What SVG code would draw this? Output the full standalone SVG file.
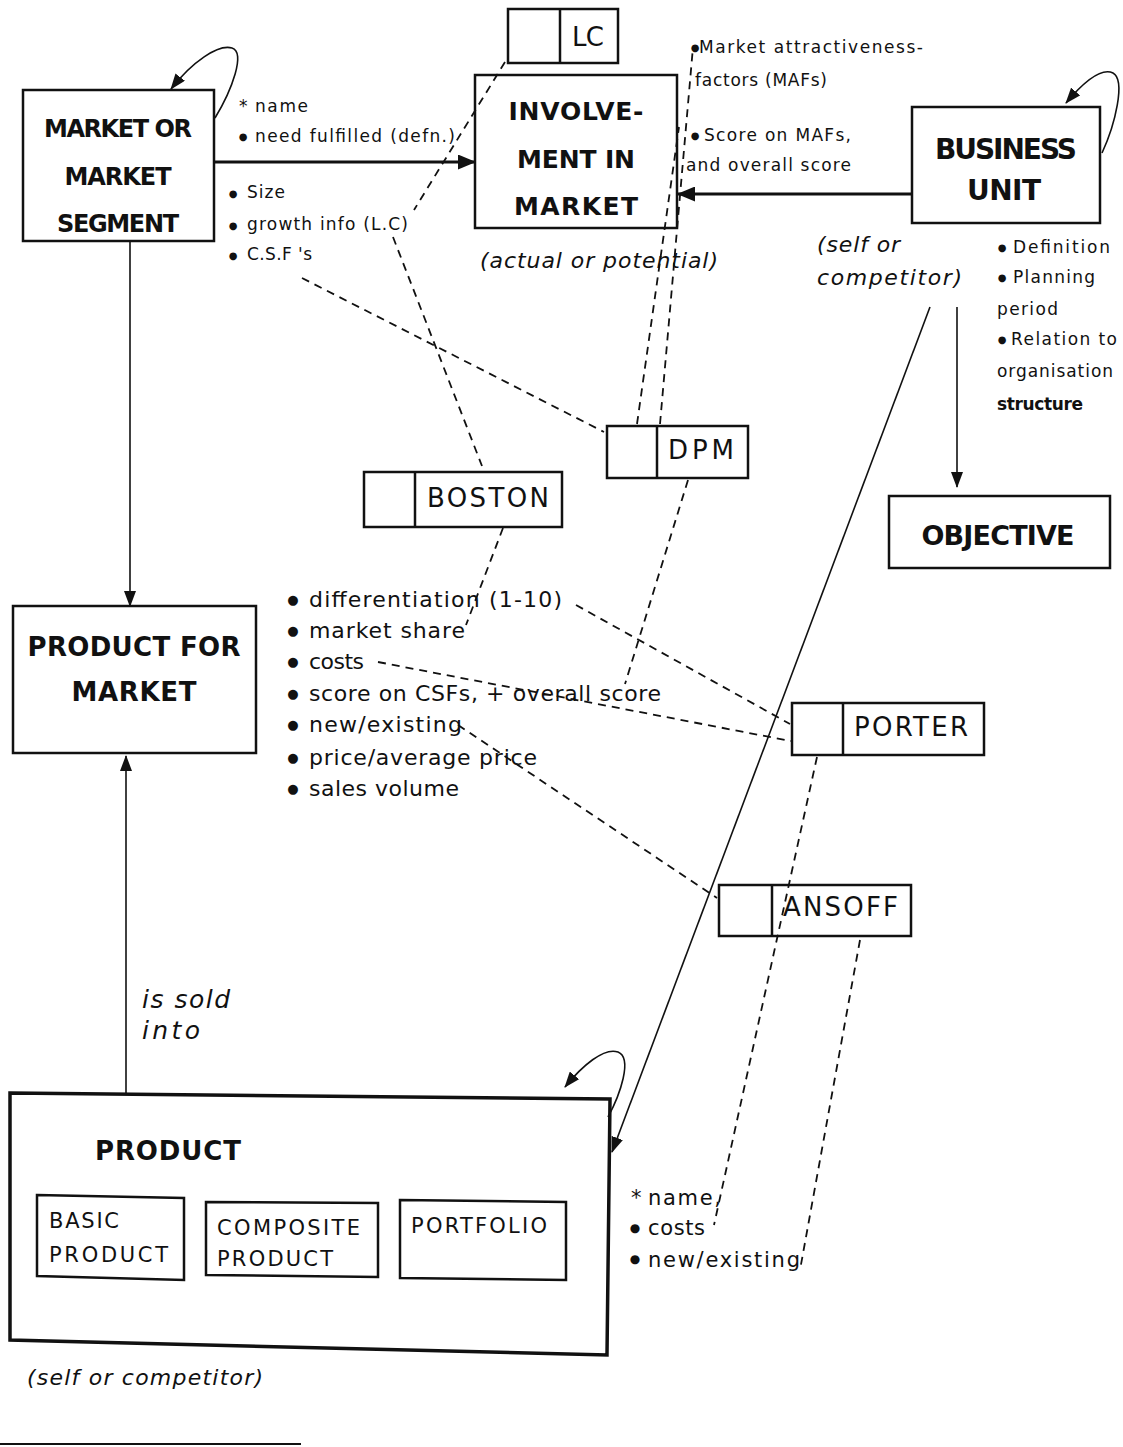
<svg xmlns="http://www.w3.org/2000/svg" width="1123" height="1447" viewBox="0 0 1123 1447">
<style>
text { font-family: "DejaVu Sans", "Liberation Sans", sans-serif; fill: #111; }
.box { fill: none; stroke: #111; stroke-width: 2.5; }
.pbox { fill: none; stroke: #111; stroke-width: 3.5; }
.big { font-weight: bold; font-size: 24px; text-anchor: middle; }
.lbl { font-size: 26px; }
.sm { font-size: 17px; }
.md { font-size: 21px; }
.lst { font-size: 22px; }
.it { font-style: italic; font-size: 22px; }
.bul { font-size: 10px; text-anchor: middle; }
.bulL { font-size: 13px; text-anchor: middle; }
.solid { fill: none; stroke: #111; stroke-width: 1.6; }
.thick { fill: none; stroke: #111; stroke-width: 3.2; }
.dash { fill: none; stroke: #111; stroke-width: 1.8; stroke-dasharray: 8 6; }
</style>
<defs>
<marker id="ah" viewBox="0 0 16 12" refX="15" refY="6" markerWidth="16" markerHeight="12" markerUnits="userSpaceOnUse" orient="auto"><path d="M0,0 L16,6 L0,12 z" fill="#111"/></marker>
<marker id="ahB" viewBox="0 0 18 15" refX="17" refY="7.5" markerWidth="18" markerHeight="15" markerUnits="userSpaceOnUse" orient="auto"><path d="M0,0 L18,7.5 L0,15 z" fill="#111"/></marker>
</defs>
<rect width="1123" height="1447" fill="#fff"/>

<g id="market">
<rect class="box" x="23" y="90" width="191" height="151"/>
<text class="big" x="118" y="137" textLength="148">MARKET OR</text>
<text class="big" x="118" y="185" textLength="107">MARKET</text>
<text class="big" x="118" y="232" textLength="122">SEGMENT</text>
<text class="sm" x="239" y="112">*</text>
<text class="sm" x="255" y="112" textLength="53">name</text>
<text class="bul" x="243" y="140">●</text>
<text class="sm" x="255" y="142" textLength="200">need fulfilled (defn.)</text>
<text class="bul" x="233" y="197">●</text>
<text class="sm" x="247" y="198" textLength="38">Size</text>
<text class="bul" x="233" y="229">●</text>
<text class="sm" x="247" y="230" textLength="161">growth info (L.C)</text>
<text class="bul" x="233" y="259">●</text>
<text class="sm" x="247" y="260" textLength="65">C.S.F 's</text>
</g>

<g id="lc">
<rect class="box" x="508" y="9" width="110" height="54"/>
<line class="box" x1="560" y1="9" x2="560" y2="63"/>
<text class="lbl" x="572" y="46" textLength="32">LC</text>
</g>

<g id="involvement">
<rect class="box" x="475" y="75" width="202" height="153"/>
<text class="big" x="576" y="120" textLength="135" style="font-size:25px">INVOLVE-</text>
<text class="big" x="576" y="168" textLength="118" style="font-size:25px">MENT IN</text>
<text class="big" x="576" y="215" textLength="124" style="font-size:25px">MARKET</text>
<text class="it" x="480" y="268" textLength="238">(actual or potential)</text>
<text class="bul" x="695" y="51">●</text>
<text class="sm" x="699" y="53" textLength="224">Market attractiveness-</text>
<text class="sm" x="695" y="86" textLength="132">factors (MAFs)</text>
<text class="bul" x="695" y="139">●</text>
<text class="sm" x="704" y="141" textLength="147">Score on MAFs,</text>
<text class="sm" x="686" y="171" textLength="165">and overall score</text>
</g>

<g id="business">
<rect class="box" x="912" y="107" width="188" height="116"/>
<text class="big" x="1006" y="159" textLength="142" style="font-size:28px">BUSINESS</text>
<text class="big" x="1004" y="200" textLength="74" style="font-size:28px">UNIT</text>
<text class="it" x="817" y="252" textLength="83">(self or</text>
<text class="it" x="817" y="285" textLength="145">competitor)</text>
<text class="bul" x="1002" y="251">●</text>
<text class="sm" x="1013" y="253" textLength="97">Definition</text>
<text class="bul" x="1002" y="281">●</text>
<text class="sm" x="1013" y="283" textLength="82">Planning</text>
<text class="sm" x="997" y="315" textLength="61">period</text>
<text class="bul" x="1002" y="343">●</text>
<text class="sm" x="1011" y="345" textLength="106">Relation to</text>
<text class="sm" x="997" y="377" textLength="116">organisation</text>
<text class="sm" x="997" y="410" textLength="86" font-weight="bold">structure</text>
</g>

<g id="objective">
<rect class="box" x="889" y="496" width="221" height="72"/>
<text class="big" x="998" y="545" textLength="153" style="font-size:27px">OBJECTIVE</text>
</g>

<g id="dpm">
<rect class="box" x="607" y="426" width="141" height="52"/>
<line class="box" x1="657" y1="426" x2="657" y2="478"/>
<text class="lbl" x="668" y="459" textLength="66">DPM</text>
</g>

<g id="boston">
<rect class="box" x="364" y="472" width="198" height="55"/>
<line class="box" x1="415" y1="472" x2="415" y2="527"/>
<text class="lbl" x="427" y="507" textLength="122">BOSTON</text>
</g>

<g id="porter">
<rect class="box" x="792" y="703" width="192" height="52"/>
<line class="box" x1="843" y1="703" x2="843" y2="755"/>
<text class="lbl" x="854" y="736" textLength="114">PORTER</text>
</g>

<g id="ansoff">
<rect class="box" x="719" y="885" width="192" height="51"/>
<line class="box" x1="772" y1="885" x2="772" y2="936"/>
<text class="lbl" x="783" y="916" textLength="115">ANSOFF</text>
</g>

<g id="attributes">
<text class="bulL" x="293" y="604">●</text>
<text class="lst" x="309" y="607" textLength="253">differentiation (1-10)</text>
<text class="bulL" x="293" y="635">●</text>
<text class="lst" x="309" y="638" textLength="156">market share</text>
<text class="bulL" x="293" y="666">●</text>
<text class="lst" x="309" y="669" textLength="55">costs</text>
<text class="bulL" x="293" y="698">●</text>
<text class="lst" x="309" y="701" textLength="352">score on CSFs,  +  overall score</text>
<text class="bulL" x="293" y="729">●</text>
<text class="lst" x="309" y="732" textLength="153">new/existing</text>
<text class="bulL" x="293" y="762">●</text>
<text class="lst" x="309" y="765" textLength="228">price/average price</text>
<text class="bulL" x="293" y="793">●</text>
<text class="lst" x="309" y="796" textLength="150">sales volume</text>
</g>

<g id="product-for-market">
<rect class="box" x="13" y="606" width="243" height="147"/>
<text class="big" x="134" y="656" textLength="213" style="font-size:26px">PRODUCT FOR</text>
<text class="big" x="134" y="701" textLength="125" style="font-size:26px">MARKET</text>
<text class="it" x="142" y="1008" textLength="88" style="font-size:25px">is sold</text>
<text class="it" x="142" y="1039" textLength="58" style="font-size:25px">into</text>
</g>

<g id="product">
<polygon class="pbox" points="10,1093 610,1099 607,1355 10,1340"/>
<text class="big" x="168" y="1160" textLength="146" style="font-size:26px">PRODUCT</text>
<g id="basic-product">
<polygon class="box" points="37,1195 184,1198 184,1280 37,1276"/>
<text class="md" x="49" y="1228" textLength="70">BASIC</text>
<text class="md" x="49" y="1262" textLength="119">PRODUCT</text>
</g>
<g id="composite-product">
<polygon class="box" points="206,1202 378,1203 378,1277 206,1275"/>
<text class="md" x="217" y="1235" textLength="143">COMPOSITE</text>
<text class="md" x="217" y="1266" textLength="116">PRODUCT</text>
</g>
<g id="portfolio">
<polygon class="box" points="400,1200 566,1202 566,1280 400,1278"/>
<text class="md" x="411" y="1233" textLength="136">PORTFOLIO</text>
</g>
<text class="md" x="631" y="1205">*</text>
<text class="md" x="648" y="1205" textLength="73">name,</text>
<text class="bul" x="635" y="1232" style="font-size:12px">●</text>
<text class="md" x="648" y="1235" textLength="57">costs</text>
<text class="bul" x="635" y="1263" style="font-size:12px">●</text>
<text class="md" x="648" y="1267" textLength="152">new/existing</text>
<text class="it" x="27" y="1385" textLength="236">(self or competitor)</text>
</g>

<g id="connectors">
<line class="thick" x1="214" y1="162" x2="475" y2="162" marker-end="url(#ahB)"/>
<line class="thick" x1="912" y1="194" x2="678" y2="194" marker-end="url(#ahB)"/>
<line class="solid" x1="130" y1="241" x2="130" y2="606" marker-end="url(#ah)"/>
<line class="solid" x1="126" y1="1093" x2="126" y2="756" marker-end="url(#ah)"/>
<line class="solid" x1="957" y1="307" x2="957" y2="487" marker-end="url(#ah)"/>
<line class="solid" x1="930" y1="307" x2="612" y2="1152" stroke-width="1.8" marker-end="url(#ah)"/>
<path class="solid" stroke-width="2" d="M215,118 C232,90 246,52 232,48 C218,44 192,62 171,89" marker-end="url(#ah)"/>
<path class="solid" stroke-width="2" d="M1102,153 C1115,125 1126,80 1113,73 C1100,67 1082,84 1066,103" marker-end="url(#ah)"/>
<path class="solid" stroke-width="2" d="M608,1117 C620,1095 633,1058 618,1052 C604,1047 582,1066 565,1087" marker-end="url(#ah)"/>
<line class="dash" x1="505" y1="62" x2="414" y2="210"/>
<line class="dash" x1="393" y1="237" x2="482" y2="466"/>
<line class="dash" x1="302" y1="278" x2="604" y2="432"/>
<line class="dash" x1="637" y1="424" x2="679" y2="127"/>
<line class="dash" x1="660" y1="424" x2="693" y2="47"/>
<line class="dash" x1="503" y1="528" x2="466" y2="625"/>
<line class="dash" x1="688" y1="480" x2="625" y2="684"/>
<line class="dash" x1="576" y1="605" x2="790" y2="724"/>
<line class="dash" x1="378" y1="662" x2="791" y2="741"/>
<line class="dash" x1="458" y1="725" x2="717" y2="898"/>
<line class="dash" x1="817" y1="757" x2="714" y2="1225"/>
<line class="dash" x1="860" y1="940" x2="800" y2="1270"/>
</g>

<line x1="0" y1="1444" x2="301" y2="1444" stroke="#111" stroke-width="2.2"/>
</svg>
